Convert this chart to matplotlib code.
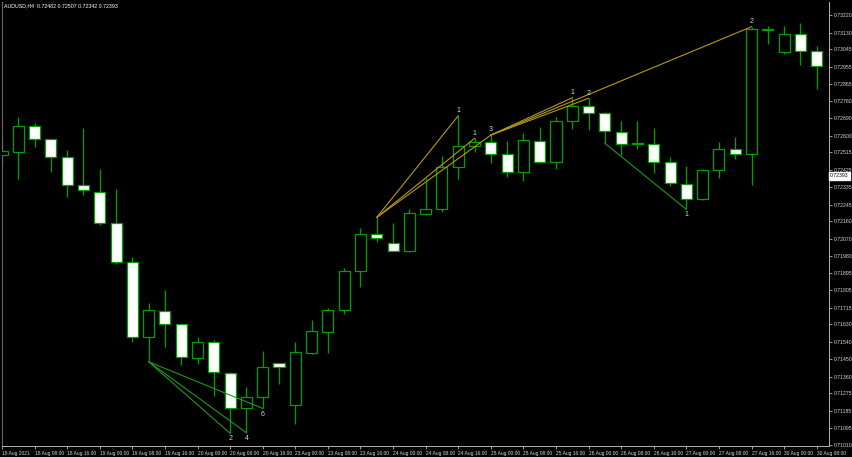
import numpy as np
import matplotlib
matplotlib.use("Agg")
import matplotlib.pyplot as plt
from matplotlib.patches import Rectangle
import matplotlib.transforms as mtransforms

plt.rcParams['font.family'] = ['Liberation Sans', 'DejaVu Sans']

# ---------------- data (AUDUSD H4) ----------------
opens = [0.72500, 0.72517, 0.72649, 0.72581, 0.72489, 0.72346, 0.72312, 0.72149, 0.71949, 0.71567,
         0.71699, 0.71630, 0.71455, 0.71538, 0.71381, 0.71198, 0.71255, 0.71430, 0.71215, 0.71481,
         0.71591, 0.71704, 0.71903, 0.72094, 0.72050, 0.72009, 0.72199, 0.72223, 0.72440, 0.72547,
         0.72566, 0.72504, 0.72415, 0.72574, 0.72466, 0.72675, 0.72752, 0.72715, 0.72620, 0.72560,
         0.72559, 0.72463, 0.72350, 0.72273, 0.72423, 0.72529, 0.72506, 0.73148, 0.73030, 0.73122,
         0.73033]
highs = [0.72583, 0.72694, 0.72666, 0.72585, 0.72526, 0.72641, 0.72428, 0.72326, 0.71976, 0.71741,
         0.71807, 0.71637, 0.71563, 0.71550, 0.71385, 0.71310, 0.71493, 0.71433, 0.71541, 0.71652,
         0.71712, 0.71918, 0.72127, 0.72180, 0.72152, 0.72223, 0.72381, 0.72495, 0.72702, 0.72586,
         0.72603, 0.72572, 0.72612, 0.72646, 0.72697, 0.72795, 0.72792, 0.72723, 0.72674, 0.72675,
         0.72638, 0.72489, 0.72444, 0.72428, 0.72566, 0.72593, 0.73160, 0.73163, 0.73163, 0.73177,
         0.73062]
lows = [0.72454, 0.72376, 0.72543, 0.72415, 0.72283, 0.72295, 0.72141, 0.71940, 0.71541, 0.71438,
        0.71515, 0.71421, 0.71426, 0.71262, 0.71070, 0.71073, 0.71198, 0.71323, 0.71116, 0.71478,
        0.71484, 0.71683, 0.71824, 0.72055, 0.72006, 0.72003, 0.72192, 0.72206, 0.72377, 0.72517,
        0.72458, 0.72389, 0.72368, 0.72463, 0.72428, 0.72633, 0.72629, 0.72561, 0.72500, 0.72530,
        0.72406, 0.72341, 0.72221, 0.72269, 0.72380, 0.72478, 0.72346, 0.73069, 0.73018, 0.72963,
        0.72840]
closes = [0.72523, 0.72651, 0.72581, 0.72489, 0.72346, 0.72319, 0.72149, 0.71949, 0.71567, 0.71704,
          0.71630, 0.71464, 0.71538, 0.71384, 0.71198, 0.71255, 0.71412, 0.71412, 0.71486, 0.71596,
          0.71705, 0.71904, 0.72096, 0.72072, 0.72009, 0.72201, 0.72224, 0.72440, 0.72548, 0.72569,
          0.72504, 0.72415, 0.72578, 0.72466, 0.72677, 0.72752, 0.72715, 0.72624, 0.72555, 0.72558,
          0.72467, 0.72355, 0.72274, 0.72423, 0.72530, 0.72506, 0.73148, 0.73141, 0.73122, 0.73033,
          0.72959]

x_labels = ["18 Aug 2021", "18 Aug 08:00", "18 Aug 16:00", "19 Aug 00:00", "19 Aug 08:00",
            "19 Aug 16:00", "20 Aug 00:00", "20 Aug 08:00", "20 Aug 16:00", "23 Aug 00:00",
            "23 Aug 08:00", "23 Aug 16:00", "24 Aug 00:00", "24 Aug 08:00", "24 Aug 16:00",
            "25 Aug 00:00", "25 Aug 08:00", "25 Aug 16:00", "26 Aug 00:00", "26 Aug 08:00",
            "26 Aug 16:00", "27 Aug 00:00", "27 Aug 08:00", "27 Aug 16:00", "30 Aug 00:00",
            "30 Aug 08:00"]
y_ticks = [0.73220, 0.73130, 0.73045, 0.72955, 0.72865, 0.72780, 0.72690, 0.72600, 0.72515,
           0.72425, 0.72335, 0.72245, 0.72160, 0.72070, 0.71980, 0.71895, 0.71805, 0.71715,
           0.71630, 0.71540, 0.71450, 0.71360, 0.71275, 0.71185, 0.71095, 0.71010]
current_price = 0.72393
title_text = "AUDUSD,H4  0.72482 0.72507 0.72342 0.72393"

# trend lines: (from index, to index, label) on lows (green) and highs (gold)
low_lines = [(9, 14, "2"), (9, 15, "4"), (9, 16, "6"), (37, 42, "1")]
high_lines = [(23, 28, "1"), (23, 29, "1"), (23, 30, "3"),
              (30, 35, "1"), (30, 36, "2"), (30, 46, "2")]

# ---------------- figure ----------------
W, H = 852, 457
fig = plt.figure(figsize=(W / 100, H / 100), dpi=100, facecolor='black')
ax = fig.add_axes([2 / W, 11 / H, 827 / W, 444 / H])
ax.set_facecolor('black')

GREEN = '#00a000'
LINE_GREEN = '#1c9a1c'
GOLD = '#b59a12'
AXC = '#b4b4b4'
TXT = '#d8d8d8'

n = len(opens)
for i in range(n):
    o, h, l, c = opens[i], highs[i], lows[i], closes[i]
    ax.vlines(i, l, h, color=GREEN, lw=0.9, zorder=2)
    bull = c > o
    bottom = min(o, c)
    height = max(abs(c - o), 1e-6)
    ax.add_patch(Rectangle((i - 0.34, bottom), 0.68, height,
                           facecolor='black' if bull else 'white',
                           edgecolor=GREEN, lw=0.9, zorder=3))

for a, b, lab in low_lines:
    ax.plot([a, b], [lows[a], lows[b]], color=LINE_GREEN, lw=0.8, zorder=4)
    ax.annotate(lab, (b, lows[b]), xytext=(0, -1.5), textcoords='offset points',
                ha='center', va='top', color=TXT, fontsize=5, zorder=5)

for a, b, lab in high_lines:
    ax.plot([a, b], [highs[a], highs[b]], color=GOLD, lw=0.8, zorder=4)
    ax.annotate(lab, (b, highs[b]), xytext=(0, 1.2), textcoords='offset points',
                ha='center', va='bottom', color=TXT, fontsize=5, zorder=5)

# limits mapped to the pixel layout
ax.set_xlim((2 - 1.7) / 16.3, (829 - 1.7) / 16.3)
ax.set_ylim(0.71005, 0.73287)

# axes styling
for s in ['top']:
    ax.spines[s].set_visible(False)
for s in ['left', 'right', 'bottom']:
    ax.spines[s].set_color(AXC)
    ax.spines[s].set_linewidth(0.7)
ax.spines['left'].set_color('#707070')

ax.yaxis.tick_right()
ax.set_yticks(y_ticks)
ax.set_yticklabels([f"{v:.5f}" for v in y_ticks])
ax.tick_params(axis='y', colors=AXC, labelcolor=TXT, labelsize=3.7,
               length=2.5, width=0.6, pad=1.2)

ax.set_xticks(list(range(0, n, 2)))
ax.set_xticklabels(x_labels)
for t in ax.get_xticklabels():
    t.set_ha('left')
ax.tick_params(axis='x', colors=AXC, labelcolor=TXT, labelsize=3.5,
               length=2.5, width=0.6, pad=1.0)

# current price box
trans = mtransforms.blended_transform_factory(ax.transAxes, ax.transData)
ax.text(1.0015, current_price, f"{current_price:.5f}", transform=trans,
        ha='left', va='center', fontsize=3.7, color='black',
        bbox=dict(boxstyle='square,pad=0.25', facecolor='white', edgecolor='white'),
        zorder=10, clip_on=False)

fig.text(4 / W, 1 - 6 / H, title_text, ha='left', va='center', color='white', fontsize=3.8)

fig.savefig('out.png', dpi=100, facecolor='black')
